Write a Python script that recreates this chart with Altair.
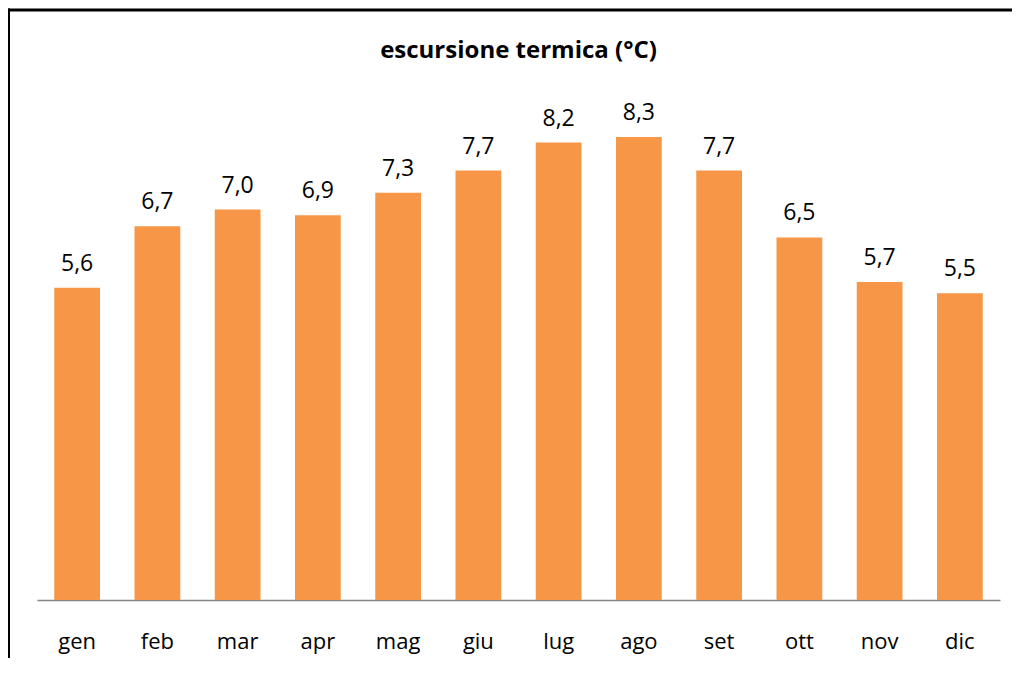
import altair as alt
import pandas as pd

months = ["gen", "feb", "mar", "apr", "mag", "giu", "lug", "ago", "set", "ott", "nov", "dic"]
values = [5.6, 6.7, 7.0, 6.9, 7.3, 7.7, 8.2, 8.3, 7.7, 6.5, 5.7, 5.5]
labels = [f"{v:.1f}".replace(".", ",") for v in values]

df = pd.DataFrame({"mese": months, "val": values, "lab": labels})

FONT = "Open Sans"
W, H = 963, 502

x = alt.X(
    "mese:N",
    sort=months,
    scale=alt.Scale(paddingInner=0.43, paddingOuter=0.215),
    axis=alt.Axis(
        title=None, labelAngle=0, ticks=False, tickSize=0,
        domainColor="#868686", domainWidth=1.5,
        labelFont=FONT, labelFontSize=22, labelColor="#000000",
        labelBaseline="alphabetic", labelPadding=48,
    ),
)
y = alt.Y("val:Q", scale=alt.Scale(domain=[0, 9], nice=False, zero=True), axis=None)

base = alt.Chart(df)
bars = base.mark_bar(color="#F79646").encode(x=x, y=y)
text = base.mark_text(
    font=FONT, fontSize=23, color="#000000", baseline="alphabetic", dy=-17
).encode(x=x, y=y, text="lab:N")

frame_src = alt.Chart(pd.DataFrame({"a": [0]}))
top_line = frame_src.mark_rule(color="#000000", strokeWidth=3, clip=False).encode(
    x=alt.value(-30), x2=alt.value(1100), y=alt.value(-88), y2=alt.value(-88)
)
left_line = frame_src.mark_rule(color="#000000", strokeWidth=3, clip=False).encode(
    x=alt.value(-28.5), x2=alt.value(-28.5), y=alt.value(-89.5), y2=alt.value(600)
)

chart = alt.layer(bars, text, top_line, left_line).properties(
    width=W, height=H,
    autosize=alt.AutoSizeParams(type="none"),
    padding={"left": 29, "top": 90, "right": 12, "bottom": 58},
    title=alt.Title(
        "escursione termica (°C)", font=FONT, fontSize=24, fontWeight="bold",
        color="#000000", anchor="middle", offset=-56,
    ),
).configure(background="white").configure_view(strokeWidth=0, stroke="transparent")

chart.save("out.html", embed_options={"renderer": "svg", "actions": False})
